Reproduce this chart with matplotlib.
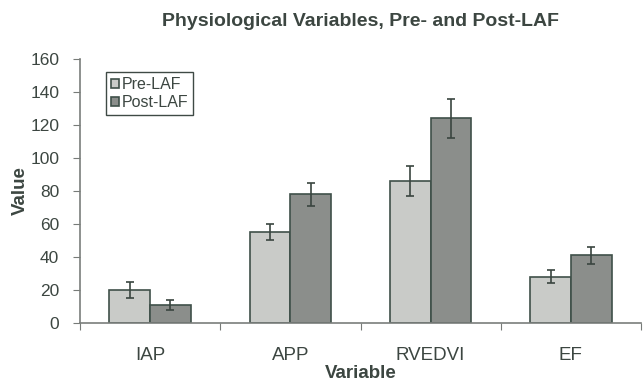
import numpy as np
import matplotlib.pyplot as plt

plt.rcParams['font.family'] = ['Liberation Sans', 'DejaVu Sans']

categories = ['IAP', 'APP', 'RVEDVI', 'EF']
pre_vals = [20, 55, 86, 28]
post_vals = [11, 78, 124, 41]
pre_err = [5, 5, 9, 4]
post_err = [3, 7, 12, 5]

text_col = '#3c4641'
edge_col = '#3f5049'

fig = plt.figure(figsize=(6.43, 3.82), dpi=100)
ax = fig.add_axes([0.1244, 0.1545, 0.8726, 0.691])

x = np.arange(len(categories))
w = 0.29
ax.bar(x - w / 2, pre_vals, w, color='#c9cbc8', edgecolor=edge_col, linewidth=1.2, label='Pre-LAF',
       yerr=pre_err, error_kw=dict(ecolor='#3a4540', elinewidth=1.2, capsize=3, capthick=1.2))
ax.bar(x + w / 2, post_vals, w, color='#8b8e8b', edgecolor=edge_col, linewidth=1.2, label='Post-LAF',
       yerr=post_err, error_kw=dict(ecolor='#3a4540', elinewidth=1.2, capsize=3, capthick=1.2))

ax.set_xlim(-0.5, len(categories) - 0.5)
ax.set_ylim(0, 160)
ax.set_yticks(np.arange(0, 161, 20))
ax.set_xticks(np.arange(len(categories) + 1) - 0.5)
ax.set_xticklabels([])
ax.set_xticks(x, minor=True)
ax.set_xticklabels(categories, minor=True)
ax.tick_params(axis='x', which='minor', length=0, pad=17, labelsize=13.5, labelcolor=text_col)
ax.tick_params(axis='x', which='major', length=5, color='#777b78', direction='out')
ax.tick_params(axis='y', length=5, color='#777b78', labelsize=12.5, labelcolor=text_col, pad=10)

for s in ['top', 'right']:
    ax.spines[s].set_visible(False)
for s in ['left', 'bottom']:
    ax.spines[s].set_color('#7a7e7b')
    ax.spines[s].set_linewidth(1.2)

ax.set_ylabel('Value', fontsize=13.5, fontweight='bold', color=text_col, labelpad=1)
ax.set_xlabel('Variable', fontsize=13.5, fontweight='bold', color=text_col, labelpad=1)
fig.suptitle('Physiological Variables, Pre- and Post-LAF', x=0.56, y=0.967,
             fontsize=14, fontweight='bold', color=text_col)

leg = ax.legend(loc='upper left', bbox_to_anchor=(0.046, 0.95), fontsize=11.5,
                handlelength=0.55, handleheight=0.55, handletextpad=0.15, borderpad=0.3,
                labelspacing=0.2, borderaxespad=0, fancybox=False, framealpha=1,
                labelcolor=text_col)
leg.get_frame().set_edgecolor('#3f4a45')
leg.get_frame().set_linewidth(1.0)

fig.savefig('out.png', dpi=100)
